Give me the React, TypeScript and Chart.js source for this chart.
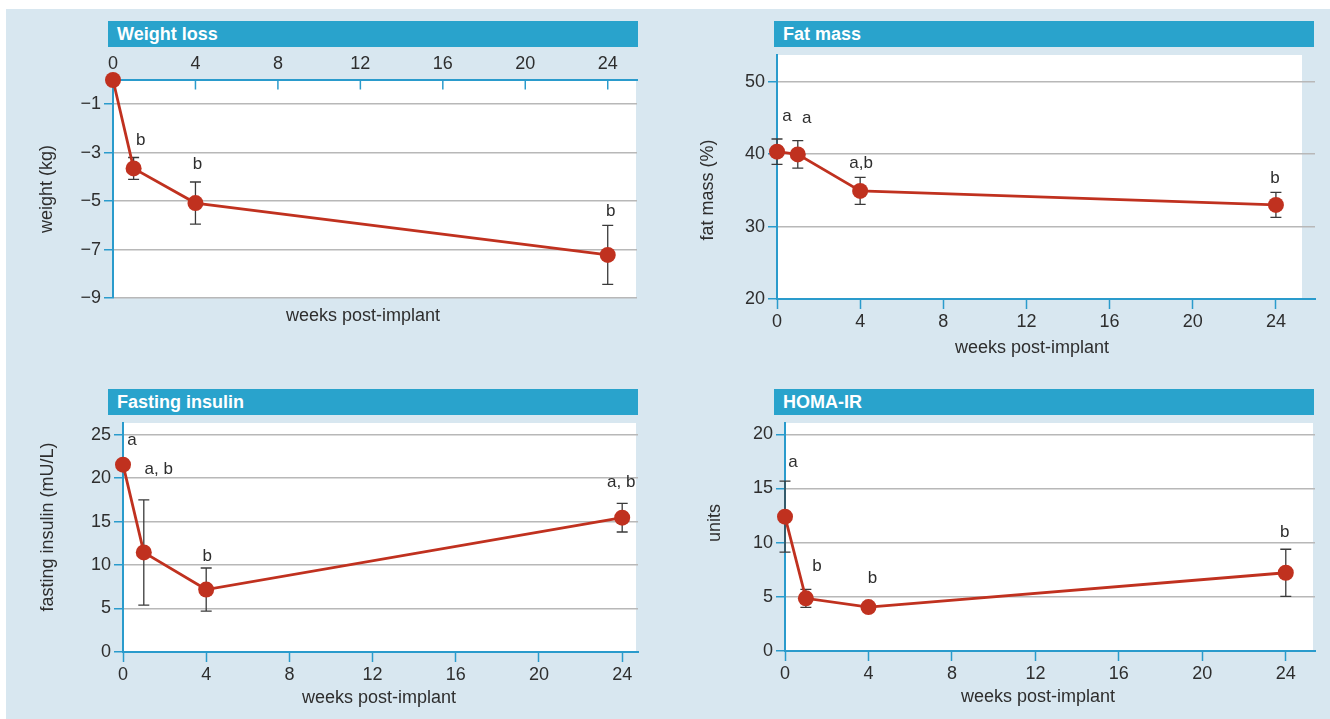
import React, { useEffect, useRef } from "react";
import { Chart, registerables } from "chart.js";

Chart.register(...registerables);

// ---------- data ----------
const weeks = [0, 1, 4, 24];
const weekTicks = [0, 4, 8, 12, 16, 20, 24];

const weightMean = [0, -3.65, -5.08, -7.22];
const weightErr = [0, 0.45, 0.87, 1.22];
const weightSig = ["", "b", "b", "b"];
const weightTicks = [-9, -7, -5, -3, -1];

const fatMean = [40.35, 39.97, 34.93, 33.0];
const fatErr = [1.75, 1.9, 1.87, 1.72];
const fatSig = ["a", "a", "a,b", "b"];
const fatTicks = [20, 30, 40, 50];

const insulinMean = [21.54, 11.45, 7.18, 15.45];
const insulinErr = [0, 6.05, 2.48, 1.65];
const insulinSig = ["a", "a, b", "b", "a, b"];
const insulinTicks = [0, 5, 10, 15, 20, 25];

const homaMean = [12.4, 4.86, 4.05, 7.22];
const homaErr = [3.28, 0.83, 0, 2.17];
const homaSig = ["a", "b", "b", "b"];
const homaTicks = [0, 5, 10, 15, 20];

// ---------- style ----------
const FONT = "'Liberation Sans', Arial, sans-serif";
const BG = "#d8e7f0";
const BAR = "#29a3cc";
const BLUE = "#2a9bcc";
const GRID = "#b8b8b8";
const RED = "#c0311f";
const TEXT = "#2e2e2e";
const ERR = "#3a3a3a";

type Panel = {
  title: string;
  xTitle: string;
  yTitle: string;
  mean: number[];
  err: number[];
  sig: string[];
  yTicks: number[];
  yMin: number;
  yMax: number;
  xMax: number;
  xPos: "top" | "bottom";
  box: { left: number; top: number; width: number; height: number };
  pad: { left: number; right: number; top: number; bottom: number };
  yW: number;
  xH: number;
  whiteInset: number;
  bar: { left: number; top: number; width: number; height: number };
  xTitleAt: [number, number];
  yTitleAt: [number, number];
  sigNudge: [number, number][];
};

const panels: Panel[] = [
  {
    title: "Weight loss",
    xTitle: "weeks post-implant",
    yTitle: "weight (kg)",
    mean: weightMean,
    err: weightErr,
    sig: weightSig,
    yTicks: weightTicks,
    yMin: -9,
    yMax: 0,
    xMax: 25.42,
    xPos: "top",
    box: { left: 0, top: 47, width: 665, height: 293 },
    pad: { left: 0, right: 28, top: 0, bottom: 42 },
    yW: 113,
    xH: 33,
    whiteInset: 1,
    bar: { left: 108, top: 21, width: 530, height: 26 },
    xTitleAt: [363, 316],
    yTitleAt: [47, 189],
    sigNudge: [[0, 0], [7, -17], [2, -18], [3, -14]],
  },
  {
    title: "Fat mass",
    xTitle: "weeks post-implant",
    yTitle: "fat mass (%)",
    mean: fatMean,
    err: fatErr,
    sig: fatSig,
    yTicks: fatTicks,
    yMin: 20,
    yMax: 53.7,
    xMax: 25.88,
    xPos: "bottom",
    box: { left: 665, top: 47, width: 665, height: 318 },
    pad: { left: 0, right: 15, top: 8, bottom: 0 },
    yW: 112,
    xH: 66,
    whiteInset: 13,
    bar: { left: 774, top: 21, width: 540, height: 26 },
    xTitleAt: [1032, 348],
    yTitleAt: [708, 190],
    sigNudge: [[10, -23], [9, -22], [1, -14], [-1, -14]],
  },
  {
    title: "Fasting insulin",
    xTitle: "weeks post-implant",
    yTitle: "fasting insulin (mU/L)",
    mean: insulinMean,
    err: insulinErr,
    sig: insulinSig,
    yTicks: insulinTicks,
    yMin: 0,
    yMax: 26.33,
    xMax: 24.76,
    xPos: "bottom",
    box: { left: 0, top: 415, width: 665, height: 304 },
    pad: { left: 0, right: 27, top: 8, bottom: 0 },
    yW: 123,
    xH: 67,
    whiteInset: 2,
    bar: { left: 108, top: 389, width: 530, height: 26 },
    xTitleAt: [379, 698],
    yTitleAt: [48, 527],
    sigNudge: [[9, -24], [15, -30], [1, -12], [-1, -21]],
  },
  {
    title: "HOMA-IR",
    xTitle: "weeks post-implant",
    yTitle: "units",
    mean: homaMean,
    err: homaErr,
    sig: homaSig,
    yTicks: homaTicks,
    yMin: 0,
    yMax: 21.04,
    xMax: 25.4,
    xPos: "bottom",
    box: { left: 665, top: 415, width: 665, height: 304 },
    pad: { left: 0, right: 15, top: 8, bottom: 0 },
    yW: 120,
    xH: 68,
    whiteInset: 2,
    bar: { left: 774, top: 389, width: 540, height: 26 },
    xTitleAt: [1038, 697],
    yTitleAt: [715, 523],
    sigNudge: [[8, -19], [11, -23], [4, -29], [-1, -17]],
  },
];

function makePlugin(p: Panel) {
  return {
    id: "panelDecor",
    beforeDraw(chart: any) {
      const { ctx, chartArea } = chart;
      ctx.save();
      ctx.fillStyle = "#ffffff";
      ctx.fillRect(
        chartArea.left,
        chartArea.top,
        chartArea.right - chartArea.left - p.whiteInset,
        chartArea.bottom - chartArea.top
      );
      ctx.restore();
    },
    beforeDatasetsDraw(chart: any) {
      const { ctx, chartArea } = chart;
      const xs = chart.scales.x;
      const ys = chart.scales.y;
      ctx.save();
      // inward tick marks for a top x axis
      if (p.xPos === "top") {
        ctx.strokeStyle = BLUE;
        ctx.lineWidth = 1.5;
        weekTicks.forEach((w) => {
          const x = xs.getPixelForValue(w);
          ctx.beginPath();
          ctx.moveTo(x, chartArea.top);
          ctx.lineTo(x, chartArea.top + 9.5);
          ctx.stroke();
        });
      }
      // error bars
      ctx.strokeStyle = ERR;
      ctx.lineWidth = 1.3;
      weeks.forEach((w, i) => {
        const e = p.err[i];
        if (!e) return;
        const x = xs.getPixelForValue(w);
        const y1 = ys.getPixelForValue(p.mean[i] + e);
        const y2 = ys.getPixelForValue(p.mean[i] - e);
        ctx.beginPath();
        ctx.moveTo(x, y1);
        ctx.lineTo(x, y2);
        ctx.moveTo(x - 5.5, y1);
        ctx.lineTo(x + 5.5, y1);
        ctx.moveTo(x - 5.5, y2);
        ctx.lineTo(x + 5.5, y2);
        ctx.stroke();
      });
      ctx.restore();
    },
    afterDraw(chart: any) {
      const { ctx } = chart;
      const xs = chart.scales.x;
      const ys = chart.scales.y;
      ctx.save();
      ctx.fillStyle = TEXT;
      ctx.textAlign = "center";
      ctx.textBaseline = "middle";
      ctx.font = `17px ${FONT}`;
      weeks.forEach((w, i) => {
        const s = p.sig[i];
        if (!s) return;
        const x = xs.getPixelForValue(w) + p.sigNudge[i][0];
        const y = ys.getPixelForValue(p.mean[i] + p.err[i]) + p.sigNudge[i][1];
        ctx.fillText(s, x, y);
      });
      ctx.font = `18px ${FONT}`;
      ctx.fillText(p.xTitle, p.xTitleAt[0] - p.box.left, p.xTitleAt[1] - p.box.top);
      ctx.translate(p.yTitleAt[0] - p.box.left, p.yTitleAt[1] - p.box.top);
      ctx.rotate(-Math.PI / 2);
      ctx.fillText(p.yTitle, 0, 0);
      ctx.restore();
    },
  };
}

function PanelChart({ p }: { p: Panel }) {
  const ref = useRef<HTMLCanvasElement | null>(null);
  useEffect(() => {
    if (!ref.current) return;
    const fmt = (v: number) => (v < 0 ? "\u2212" + Math.abs(v) : String(v));
    const chart = new Chart(ref.current, {
      type: "line",
      data: {
        datasets: [
          {
            data: weeks.map((w, i) => ({ x: w, y: p.mean[i] })),
            borderColor: RED,
            backgroundColor: RED,
            borderWidth: 2.8,
            pointRadius: 8,
            pointHoverRadius: 8,
            pointBorderWidth: 0,
            pointBackgroundColor: RED,
            tension: 0,
            clip: false as any,
          },
        ],
      },
      options: {
        responsive: false,
        animation: false,
        events: [],
        layout: { padding: p.pad },
        plugins: { legend: { display: false }, tooltip: { enabled: false } },
        scales: {
          x: {
            type: "linear",
            position: p.xPos,
            min: 0,
            max: p.xMax,
            afterBuildTicks: (s: any) => {
              s.ticks = weekTicks.map((v) => ({ value: v }));
            },
            afterFit: (s: any) => {
              s.height = p.xH;
              s.paddingLeft = 0;
              s.paddingRight = 0;
            },
            grid: {
              drawOnChartArea: false,
              drawTicks: p.xPos === "bottom",
              tickLength: 10,
              tickColor: BLUE,
              tickWidth: 1.5,
            },
            border: { color: BLUE, width: 2 },
            ticks: {
              font: { family: FONT, size: 18 },
              color: TEXT,
              padding: p.xPos === "bottom" ? 2 : 5,
              maxRotation: 0,
              autoSkip: false,
              callback: (v: any) => fmt(Number(v)),
            },
          },
          y: {
            type: "linear",
            min: p.yMin,
            max: p.yMax,
            afterBuildTicks: (s: any) => {
              s.ticks = p.yTicks.map((v) => ({ value: v }));
            },
            afterFit: (s: any) => {
              s.width = p.yW;
              s.paddingTop = 0;
              s.paddingBottom = 0;
            },
            grid: {
              color: GRID,
              lineWidth: 1.5,
              tickLength: 9,
              tickColor: BLUE,
              tickWidth: 1.5,
            },
            border: { color: BLUE, width: 2 },
            ticks: {
              font: { family: FONT, size: 18 },
              color: TEXT,
              padding: 3,
              autoSkip: false,
              callback: (v: any) => fmt(Number(v)),
            },
          },
        },
      },
      plugins: [makePlugin(p)],
    } as any);
    return () => chart.destroy();
  }, [p]);
  return (
    <canvas
      ref={ref}
      width={p.box.width}
      height={p.box.height}
      style={{
        position: "absolute",
        left: p.box.left,
        top: p.box.top,
        width: p.box.width,
        height: p.box.height,
      }}
    />
  );
}

export default function App() {
  return (
    <div
      style={{
        position: "absolute",
        left: 0,
        top: 0,
        width: 1330,
        height: 719,
        background: "#ffffff",
        overflow: "hidden",
      }}
    >
      <div
        style={{
          position: "absolute",
          left: 6,
          top: 9,
          width: 1324,
          height: 710,
          background: BG,
        }}
      />
      {panels.map((p) => (
        <div
          key={p.title + "-bar"}
          style={{
            position: "absolute",
            left: p.bar.left,
            top: p.bar.top,
            width: p.bar.width,
            height: p.bar.height,
            background: BAR,
            color: "#ffffff",
            fontFamily: FONT,
            fontWeight: "bold",
            fontSize: 18,
            lineHeight: p.bar.height + "px",
            paddingLeft: 9,
            boxSizing: "border-box",
          }}
        >
          {p.title}
        </div>
      ))}
      {panels.map((p) => (
        <PanelChart key={p.title} p={p} />
      ))}
    </div>
  );
}
